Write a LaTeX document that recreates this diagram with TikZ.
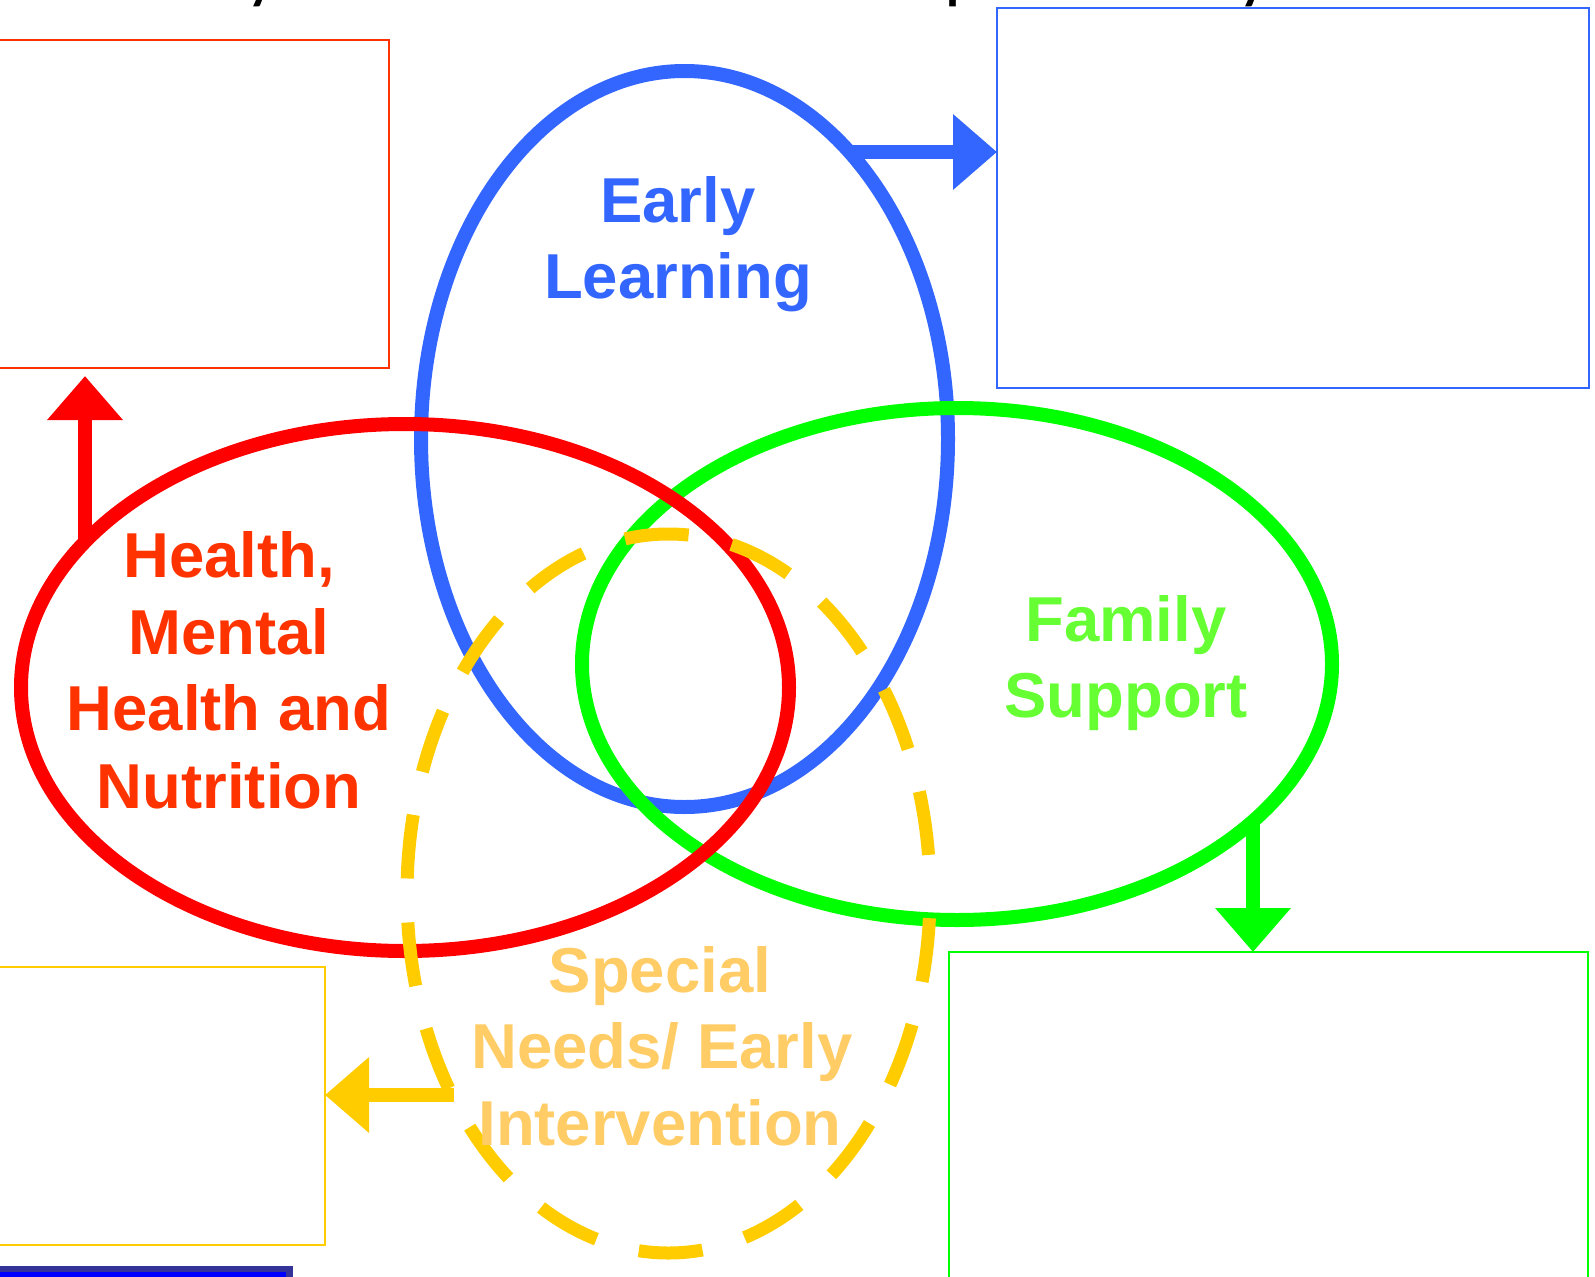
\documentclass[tikz,border=0pt]{standalone}
\usepackage{fontspec}
\setmainfont{Liberation Sans}
\newfontfamily\titlefont{Carlito}
\usetikzlibrary{arrows.meta,shapes.geometric}
\definecolor{elblue}{HTML}{3366FF}
\definecolor{hred}{HTML}{FF0000}
\definecolor{htext}{HTML}{FF3300}
\definecolor{fgreen}{HTML}{00FF00}
\definecolor{ftext}{HTML}{66FF33}
\definecolor{syellow}{HTML}{FFCC00}
\definecolor{stext}{HTML}{FFCC66}
\definecolor{bardark}{HTML}{333399}
\definecolor{barblue}{HTML}{0000FF}
\tikzset{
  ring/.style={ellipse, inner sep=0pt, outer sep=0pt, line width=10.5pt},
  dashring/.style={ring, line width=9.75pt, dash pattern=on 48pt off 33pt, dash phase=52pt},
  emptybox/.style={rectangle, inner sep=0pt, outer sep=0pt, line width=1.5pt},
  bigarrow/.style={line width=10.5pt, -{Triangle[length=33pt,width=54.75pt]}},
  lbl/.style={anchor=base, inner sep=0pt, font=\bfseries\fontsize{47.6}{57}\selectfont},
  titlebit/.style={anchor=base, inner sep=0pt, font=\titlefont\bfseries\fontsize{40}{48}\selectfont}
}
\begin{document}
\begin{tikzpicture}[x=0.75pt,y=-0.75pt]
\useasboundingbox (0,0) rectangle (1595,1277);
\begin{scope}
\clip (0,0) rectangle (1595,1277);
% cut-off title fragments (the title runs above the top edge)
\node[titlebit] (t1) at (261,-1) {y};
\node[titlebit] (t2) at (961,-1) {p};
\node[titlebit] (t3) at (1253,-1) {y};
% boxes
\node[emptybox, draw=htext, minimum width=299.25pt, minimum height=246pt] (RB) at (189.5,204) {};
\node[emptybox, draw=elblue, minimum width=444pt, minimum height=285pt] (BB) at (1293,198) {};
\node[emptybox, draw=fgreen, minimum width=479.25pt, minimum height=261pt] (GB) at (1268.5,1126) {};
\node[emptybox, draw=syellow, minimum width=251.25pt, minimum height=208.5pt] (YB) at (157.5,1106) {};
% bottom bar
\fill[bardark] (0,1266) rectangle (293,1290);
\fill[barblue] (0,1272) rectangle (286,1290);
% ellipses
\node[ring, draw=elblue, minimum width=395.25pt, minimum height=552pt] (EL) at (684.5,439) {};
\node[ring, draw=fgreen, minimum width=562.5pt, minimum height=384pt] (FS) at (957,664) {};
\node[ring, draw=hred, minimum width=576pt, minimum height=395.25pt] (HN) at (405,687.5) {};
\node[dashring, draw=syellow, minimum width=392.25pt, minimum height=539.25pt] (SN) at (668.5,893.5) {};
% arrows
\coordinate (bs) at (849,152);
\coordinate (gs) at (1253,821);
\coordinate (rs) at (85,542);
\coordinate (rt) at (85,376);
\coordinate (ys) at (454,1095);
\draw[bigarrow, elblue] (bs) -- (bs -| BB.west);
\draw[bigarrow, fgreen] (gs) -- (gs |- GB.north);
\draw[bigarrow, hred] (rs) -- (rt);
\draw[bigarrow, syellow] (ys) -- (ys -| YB.east);
% labels
\node[lbl, text=elblue] (el1) at (678,223) {Early};
\node[lbl, text=elblue] (el2) at (678,298) {Learning};
\node[lbl, text=htext] (h1) at (229,577) {Health,};
\node[lbl, text=htext] (h2) at (229,654) {Mental};
\node[lbl, text=htext] (h3) at (229,730) {Health and};
\node[lbl, text=htext] (h4) at (229,808) {Nutrition};
\node[lbl, text=ftext] (f1) at (1126,641) {Family};
\node[lbl, text=ftext] (f2) at (1126,717) {Support};
\node[lbl, text=stext] (s1) at (660,992) {Special};
\node[lbl, text=stext] (s2) at (662,1068) {Needs/ Early};
\node[lbl, text=stext] (s3) at (660,1145) {Intervention};
\end{scope}
\end{tikzpicture}
\end{document}
